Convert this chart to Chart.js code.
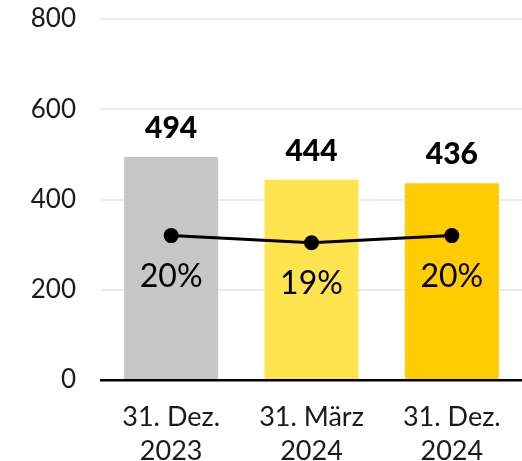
<!DOCTYPE html>
<html><head><meta charset="utf-8">
<script src="https://cdn.jsdelivr.net/npm/chart.js@4"></script>
<style>html,body{margin:0;padding:0;background:#fff}#wrap{width:522px;height:461px}</style>
</head><body><div id="wrap"><canvas id="c" width="522" height="461"></canvas></div>
<script>
const categories = [["31. Dez.", "2023"], ["31. März", "2024"], ["31. Dez.", "2024"]];
const barValues = [494, 444, 436];
const percentValues = [20, 19, 20];
const yTicks = [0, 200, 400, 600, 800];
const barColors = ["#c6c6c6", "#ffe44f", "#ffcc00"];
const FONT = "Lato, 'Noto Sans', sans-serif";

const labelPlugin = {
  id: 'labels',
  afterDatasetsDraw(chart) {
    const ctx = chart.ctx;
    ctx.save();
    ctx.fillStyle = '#000';
    ctx.textAlign = 'center';
    ctx.textBaseline = 'alphabetic';
    const barMeta = chart.getDatasetMeta(0);
    ctx.font = "900 30px " + FONT;
    barMeta.data.forEach((el, i) => {
      ctx.fillText(String(barValues[i]), el.x, el.y - 19);
    });
    const lineMeta = chart.getDatasetMeta(1);
    ctx.font = "32px " + FONT;
    lineMeta.data.forEach((el, i) => {
      ctx.fillText(percentValues[i] + "%", el.x, el.y + 51);
    });
    ctx.restore();
  }
};

new Chart(document.getElementById('c'), {
  data: {
    labels: categories,
    datasets: [
      { type: 'bar', data: barValues, backgroundColor: barColors, categoryPercentage: 1, barPercentage: 0.67, order: 1, yAxisID: 'y' },
      { type: 'line', data: percentValues, borderColor: '#000', backgroundColor: '#000', borderWidth: 3, pointRadius: 7.5, pointBackgroundColor: '#000', pointBorderWidth: 0, order: 0, yAxisID: 'y2', tension: 0 }
    ]
  },
  options: {
    responsive: false,
    animation: false,
    layout: { autoPadding: false, padding: { top: 19, right: 0, left: 0, bottom: 0 } },
    plugins: { legend: { display: false }, tooltip: { enabled: false } },
    scales: {
      x: {
        grid: { display: false },
        border: { display: true, color: '#000', width: 2.5 },
        ticks: { color: '#1a1a1a', font: { family: FONT, size: 27, lineHeight: 1.26 }, padding: 12, maxRotation: 0 },
        afterFit(s) { s.height = 81; s.paddingLeft = 0; s.paddingRight = 0; }
      },
      y: {
        min: 0, max: 800,
        afterBuildTicks(s) { s.ticks = yTicks.map(v => ({ value: v })); },
        grid: { color: (c) => c.tick && c.tick.value === 0 ? 'rgba(0,0,0,0)' : '#ececec', lineWidth: 2, drawTicks: false },
        border: { display: false },
        ticks: { color: '#1a1a1a', font: { family: FONT, size: 26 }, padding: 25 },
        afterFit(s) { s.width = 101; s.paddingTop = 0; s.paddingBottom = 0; }
      },
      y2: { display: false, min: 0, max: 50 }
    }
  },
  plugins: [labelPlugin]
});
</script></body></html>
